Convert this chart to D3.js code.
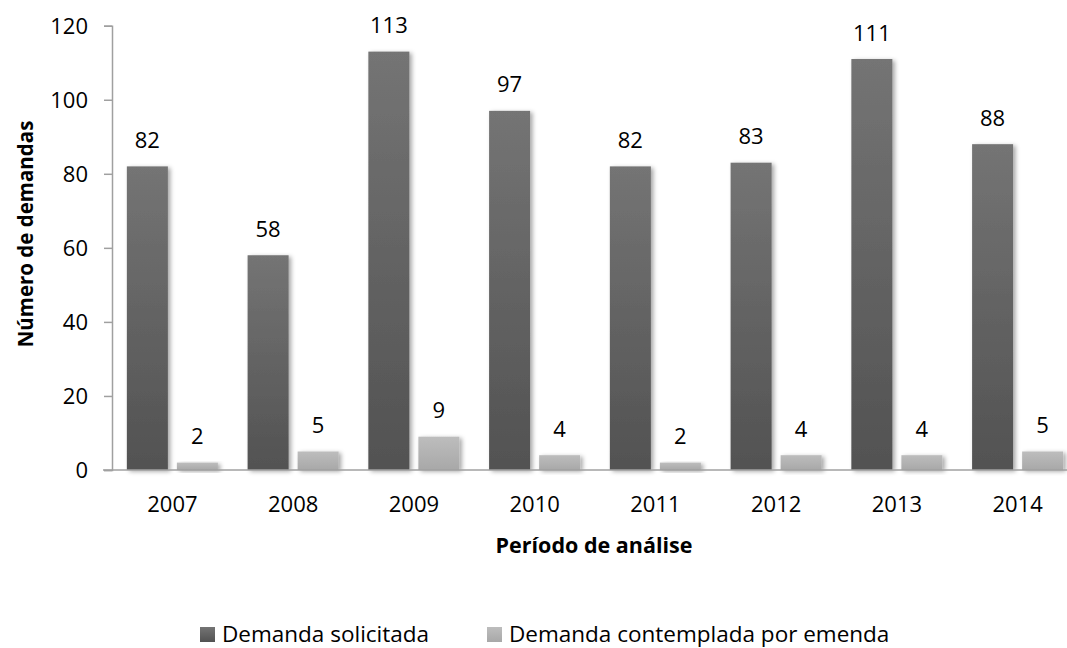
<!DOCTYPE html>
<html>
<head>
<meta charset="utf-8">
<script src="https://cdn.jsdelivr.net/npm/d3@7"></script>
<style>
html,body{margin:0;padding:0;background:#fff;overflow:hidden;}
svg{display:block;font-family:"Open Sans",sans-serif;}
</style>
</head>
<body>
<svg id="chart" width="1067" height="648"></svg>
<script>
const categories = ["2007","2008","2009","2010","2011","2012","2013","2014"];
const seriesNames = ["Demanda solicitada","Demanda contemplada por emenda"];
const solicitada = [82,58,113,97,82,83,111,88];
const contemplada = [2,5,9,4,2,4,4,5];
const yTicks = [0,20,40,60,80,100,120];

(function(){
const svg = d3.select("#chart");
const mLeft = 112, mRight = 1078, mTop = 25.7, mBottom = 470;

const defs = svg.append("defs");
const grads = [["g0","#747474","#525252"],["g1","#bdbdbd","#a8a8a8"]];
grads.forEach(([id,c1,c2])=>{
  const g = defs.append("linearGradient").attr("id",id).attr("x1",0).attr("y1",0).attr("x2",0).attr("y2",1);
  g.append("stop").attr("offset","0%").attr("stop-color",c1);
  g.append("stop").attr("offset","100%").attr("stop-color",c2);
});
const f = defs.append("filter").attr("id","sh").attr("x","-20%").attr("y","-20%").attr("width","150%").attr("height","150%");
f.append("feDropShadow").attr("dx",2.5).attr("dy",1.5).attr("stdDeviation",2.2).attr("flood-color","#000").attr("flood-opacity",0.35);

const y = d3.scaleLinear().domain([0,120]).range([mBottom, mTop]);
const x0 = d3.scaleBand().domain(categories).range([mLeft, mRight]).paddingInner(0.246).paddingOuter(0.123);
const x1 = d3.scaleBand().domain([0,1]).range([0, x0.bandwidth()]).paddingInner(0.18);

const data = categories.map((c,i)=>({cat:c, vals:[solicitada[i], contemplada[i]]}));

// bars
const groups = svg.append("g").selectAll("g").data(data).join("g")
  .attr("transform", d=>`translate(${x0(d.cat)},0)`);
groups.selectAll("rect").data(d=>d.vals.map((v,k)=>({v,k}))).join("rect")
  .attr("x", d=>x1(d.k)).attr("width", x1.bandwidth())
  .attr("y", d=>y(d.v)).attr("height", d=>y(0)-y(d.v))
  .attr("fill", d=>`url(#g${d.k})`).attr("filter","url(#sh)");
groups.selectAll("text").data(d=>d.vals.map((v,k)=>({v,k}))).join("text")
  .attr("x", d=>x1(d.k)+x1.bandwidth()/2).attr("y", d=>y(d.v)-18.5)
  .attr("text-anchor","middle").attr("font-size",22).attr("fill","#000")
  .text(d=>d.v);

// y axis
const yAxis = d3.axisLeft(y).tickValues(yTicks).tickSize(8).tickPadding(16);
const ya = svg.append("g").attr("transform",`translate(${mLeft},0)`).call(yAxis);
ya.select(".domain").attr("stroke","#a0a0a0").attr("stroke-width",1.5);
ya.selectAll(".tick line").attr("stroke","#a0a0a0").attr("stroke-width",1.5);
ya.selectAll(".tick text").attr("font-size",22).attr("fill","#000").attr("font-family","Open Sans").attr("dy","0.35em");

// x axis
const xAxis = d3.axisBottom(x0).tickSize(0).tickPadding(42);
const xa = svg.append("g").attr("transform",`translate(0,${mBottom})`).call(xAxis);
xa.select(".domain").attr("stroke","#a0a0a0").attr("stroke-width",1.5).attr("d",`M${mLeft-9},0H${mRight}`);
xa.selectAll(".tick text").attr("font-size",22).attr("fill","#000").attr("font-family","Open Sans").attr("dy","0");

// titles
svg.append("text").attr("x",594).attr("y",553).attr("text-anchor","middle")
  .attr("font-size",21.5).attr("font-weight","bold").text("Período de análise");
svg.append("text").attr("transform","translate(33,234) rotate(-90)").attr("text-anchor","middle")
  .attr("font-size",20.5).attr("font-weight","bold").text("Número de demandas");

// legend
const legX = [200, 487];
const lg = svg.append("g").selectAll("g").data(seriesNames).join("g")
  .attr("transform",(d,i)=>`translate(${legX[i]},627)`);
lg.append("rect").attr("width",15).attr("height",15).attr("fill",(d,i)=>`url(#g${i})`);
lg.append("text").attr("x",22).attr("y",15).attr("font-size",22.5).attr("fill","#000").text(d=>d);
})();
</script>
</body>
</html>
